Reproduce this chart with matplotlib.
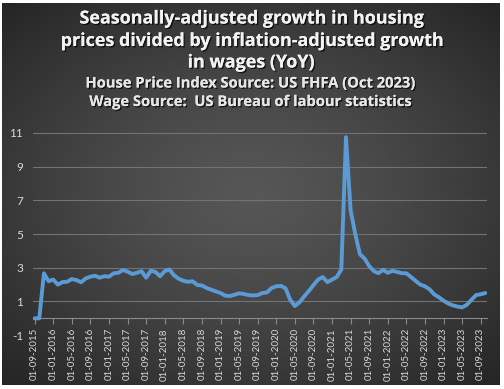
import numpy as np
import pandas as pd
import matplotlib
matplotlib.use("Agg")
import matplotlib.pyplot as plt
import matplotlib.patheffects as pe

# ---- data ----
dates = pd.date_range("2015-09-01", periods=98, freq="MS")
values = [0, 0, 2.67, 2.2, 2.3, 2.0, 2.15, 2.17, 2.33, 2.27,
          2.14, 2.37, 2.47, 2.53, 2.41, 2.5, 2.47, 2.67, 2.7, 2.87,
          2.77, 2.63, 2.7, 2.8, 2.41, 2.83, 2.75, 2.5, 2.8, 2.9,
          2.55, 2.35, 2.23, 2.17, 2.2, 1.98, 1.95, 1.8, 1.7, 1.6,
          1.5, 1.35, 1.32, 1.4, 1.48, 1.45, 1.38, 1.36, 1.38, 1.5,
          1.54, 1.8, 1.9, 1.93, 1.78, 1.1, 0.73, 0.95, 1.3, 1.62,
          1.97, 2.3, 2.45, 2.15, 2.3, 2.45, 2.9, 10.75, 6.4, 5.0,
          3.8, 3.55, 3.1, 2.8, 2.68, 2.88, 2.7, 2.82, 2.75, 2.68,
          2.67, 2.45, 2.22, 2.0, 1.9, 1.72, 1.42, 1.25, 1.05, 0.88,
          0.77, 0.7, 0.65, 0.8, 1.1, 1.38, 1.43, 1.5]
tick_idx = list(range(0, 98, 4))
tick_labels = [dates[i].strftime("%d-%m-%Y") for i in tick_idx]
y_ticks = [-1, 1, 3, 5, 7, 9, 11]
title_lines = ["Seasonally-adjusted growth in housing",
               "prices divided by inflation-adjusted growth",
               "in wages (YoY)"]
sub_lines = ["House Price Index Source: US FHFA (Oct 2023)",
             "Wage Source:  US Bureau of labour statistics"]

W, H = 504, 389
fig = plt.figure(figsize=(W / 100, H / 100), dpi=100, facecolor="white")

# background chart area with radial gradient
bx0, by0, bx1, by1 = 2, 3, 500, 385
bg = fig.add_axes([bx0 / W, 1 - by1 / H, (bx1 - bx0) / W, (by1 - by0) / H])
gx, gy = np.meshgrid(np.linspace(-1, 1, 400), np.linspace(-1, 1, 300))
r = np.sqrt((gx * 1.0) ** 2 + (gy * 1.05) ** 2) / np.sqrt(2)
r = np.clip(r, 0, 1)
c_in, c_out = 0.34, 0.15
g = c_in + (c_out - c_in) * r ** 1.3
bg.imshow(np.dstack([g, g, g]), aspect="auto", extent=[0, 1, 0, 1])
bg.set_axis_off()

# main plot
px0, px1 = 33, 487
ax = fig.add_axes([px0 / W, (H - 335.2) / H, (px1 - px0) / W, (335.2 - 99.2) / H])
ax.patch.set_alpha(0)
for s in ["left", "right", "top"]:
    ax.spines[s].set_visible(False)
ax.spines["bottom"].set_position(("data", 0))
ax.spines["bottom"].set_color("#8a8a8a")
ax.spines["bottom"].set_linewidth(0.8)

x = np.arange(len(values))
ax.plot(x, values, color="#5b9bd5", lw=2.8, solid_joinstyle="round",
        solid_capstyle="round", zorder=3)
ax.set_xlim(-0.35, 97.35)
ax.set_ylim(-1, 13)
for v in y_ticks[1:]:
    ax.axhline(v, color="#737373", lw=0.8, zorder=1)
ax.set_yticks(y_ticks)
ax.set_yticklabels([str(v) for v in y_ticks], fontfamily="Lato")
ax.set_xticks(tick_idx)
ax.set_xticklabels(tick_labels, fontfamily="Lato")
ax.tick_params(axis="y", length=0, pad=7, labelsize=8.5, labelcolor="#d9d9d9")
ax.tick_params(axis="x", length=4, width=0.8, color="#8a8a8a", pad=3,
               labelsize=7.0, labelcolor="#d9d9d9", labelrotation=90)

shadow = [pe.withSimplePatchShadow(offset=(1, -1), shadow_rgbFace="black", alpha=0.7), pe.Normal()]
cx = 0.5 * (bx0 + bx1) / W
for i, t in enumerate(title_lines):
    yy = [18.5, 41, 62.5][i]
    fig.text(cx, 1 - yy / H, t, ha="center", va="center", fontsize=12.9,
             fontweight="bold", color="#f2f2f2", family="Open Sans",
             path_effects=shadow)
for i, t in enumerate(sub_lines):
    yy = [83.5, 102][i]
    fig.text(cx, 1 - yy / H, t, ha="center", va="center", fontsize=10.6,
             fontweight="bold", color="#e6e6e6", family="Open Sans",
             path_effects=shadow)

fig.savefig("out.png", dpi=100, facecolor="white")
